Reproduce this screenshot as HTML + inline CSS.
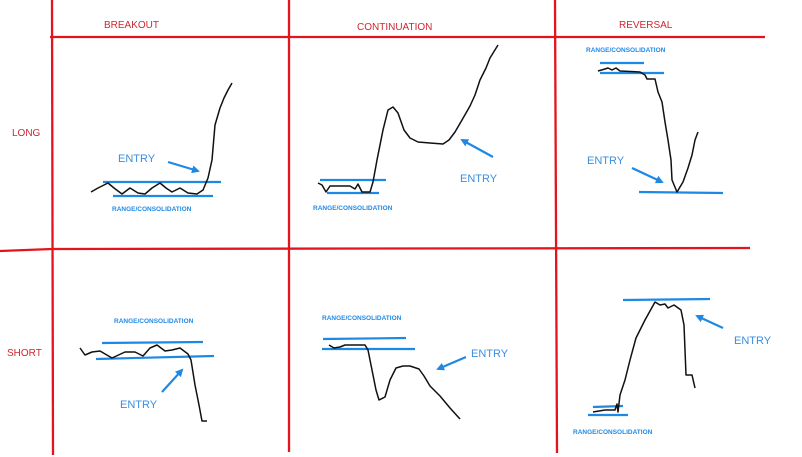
<!DOCTYPE html>
<html><head><style>
html,body{margin:0;padding:0;background:#fff;width:802px;height:457px;overflow:hidden}
svg{display:block}
text{font-family:"Liberation Sans",sans-serif}
.h{fill:#d0262e;font-size:10px}
.e{fill:#3a8ee0;font-size:11px}
.r{fill:#1f8ae6;font-size:6.5px;font-weight:bold}
.k{fill:none;stroke:#111;stroke-width:1.5;stroke-linejoin:round}
.b{stroke:#1e88e5;stroke-width:2.2}
.g{stroke:#e3141c;stroke-width:2.3}
</style></head><body>
<svg width="802" height="457" viewBox="0 0 802 457">
<defs><marker id="a" markerWidth="8" markerHeight="8" refX="6" refY="4" orient="auto" markerUnits="userSpaceOnUse"><path d="M0,0 L8,4 L0,8z" fill="#1e88e5"/></marker></defs>
<g class="g">
<line x1="50" y1="37" x2="765" y2="37"/>
<line x1="0" y1="251" x2="52" y2="249"/>
<line x1="52" y1="249" x2="750" y2="248"/>
<line x1="52" y1="0" x2="53" y2="455"/>
<line x1="289" y1="0" x2="289" y2="452"/>
<line x1="555" y1="0" x2="557" y2="453"/>
</g>
<text class="h" x="104" y="28">BREAKOUT</text>
<text class="h" x="357" y="30">CONTINUATION</text>
<text class="h" x="619" y="28">REVERSAL</text>
<text class="h" x="12" y="136">LONG</text>
<text class="h" x="7" y="356">SHORT</text>

<!-- breakout long -->
<g class="b"><line x1="103" y1="182" x2="221" y2="182"/><line x1="113" y1="196" x2="213" y2="196"/></g>
<path class="k" d="M91,192 L98,188 L108,183 L114,188 L122,194 L130,188 L138,193 L145,194 L152,188 L160,183 L166,188 L172,192 L180,188 L188,193 L197,194 L203,190 L208,178 L212,160 L215,125 L220,108 L224,98 L228,90 L232,83"/>
<text class="e" x="118" y="162">ENTRY</text>
<line class="b" x1="168" y1="162" x2="198" y2="171" marker-end="url(#a)"/>
<text class="r" x="112" y="211">RANGE/CONSOLIDATION</text>

<!-- continuation long -->
<g class="b"><line x1="320" y1="180" x2="386" y2="180"/><line x1="327" y1="193" x2="379" y2="193"/></g>
<path class="k" d="M318,183 L322,185 L326,192 L330,186 L350,186 L355,189 L358,184 L362,192 L370,192 L373,182 L377,160 L383,130 L388,110 L393,107 L398,113 L404,130 L410,138 L418,142 L430,143 L443,144 L449,140 L455,132 L462,120 L470,106 L475,95 L480,80 L486,68 L490,58 L498,45"/>
<text class="r" x="313" y="210">RANGE/CONSOLIDATION</text>
<line class="b" x1="493" y1="157" x2="462" y2="140" marker-end="url(#a)"/>
<text class="e" x="460" y="182">ENTRY</text>

<!-- reversal long -->
<text class="r" x="586" y="52">RANGE/CONSOLIDATION</text>
<g class="b"><line x1="600" y1="63" x2="644" y2="63"/><line x1="600" y1="73" x2="664" y2="73"/><line x1="639" y1="192" x2="723" y2="193"/></g>
<path class="k" d="M598,71 L605,69 L608,68 L612,70 L616,68 L620,71 L640,72 L645,75 L647,79 L655,79 L658,92 L662,102 L665,122 L668,140 L671,160 L672,180 L677,192 L683,182 L688,168 L692,155 L695,140 L698,132"/>
<text class="e" x="587" y="164">ENTRY</text>
<line class="b" x1="632" y1="168" x2="662" y2="182" marker-end="url(#a)"/>

<!-- breakout short -->
<text class="r" x="114" y="323">RANGE/CONSOLIDATION</text>
<g class="b"><line x1="102" y1="343" x2="203" y2="342"/><line x1="96" y1="359" x2="214" y2="356"/></g>
<path class="k" d="M80,348 L85,355 L92,352 L100,351 L112,358 L125,352 L135,352 L143,356 L150,348 L157,345 L165,351 L172,350 L180,348 L188,354 L191,360 L195,385 L199,405 L202,421 L207,421"/>
<text class="e" x="120" y="408">ENTRY</text>
<line class="b" x1="162" y1="392" x2="182" y2="370" marker-end="url(#a)"/>

<!-- continuation short -->
<text class="r" x="322" y="320">RANGE/CONSOLIDATION</text>
<g class="b"><line x1="323" y1="339" x2="406" y2="338"/><line x1="322" y1="349" x2="415" y2="349"/></g>
<path class="k" d="M329,345 L334,348 L340,347 L345,345 L365,345 L368,350 L372,370 L376,390 L379,400 L385,397 L390,380 L396,368 L403,366 L410,366 L419,369 L424,376 L430,386 L440,396 L450,408 L460,419"/>
<line class="b" x1="466" y1="357" x2="438" y2="369" marker-end="url(#a)"/>
<text class="e" x="471" y="357">ENTRY</text>

<!-- reversal short -->
<g class="b"><line x1="623" y1="300" x2="710" y2="299"/><line x1="593" y1="407" x2="623" y2="406"/><line x1="588" y1="415" x2="628" y2="415"/></g>
<path class="k" d="M593,412 L605,410 L615,410 L617,404 L618,412 L620,395 L625,380 L630,360 L636,338 L645,320 L655,302 L660,305 L665,304 L668,308 L674,305 L681,310 L684,325 L686,375 L692,375 L695,388"/>
<line class="b" x1="723" y1="328" x2="697" y2="316" marker-end="url(#a)"/>
<text class="e" x="734" y="344">ENTRY</text>
<text class="r" x="573" y="434">RANGE/CONSOLIDATION</text>
</svg>
</body></html>
